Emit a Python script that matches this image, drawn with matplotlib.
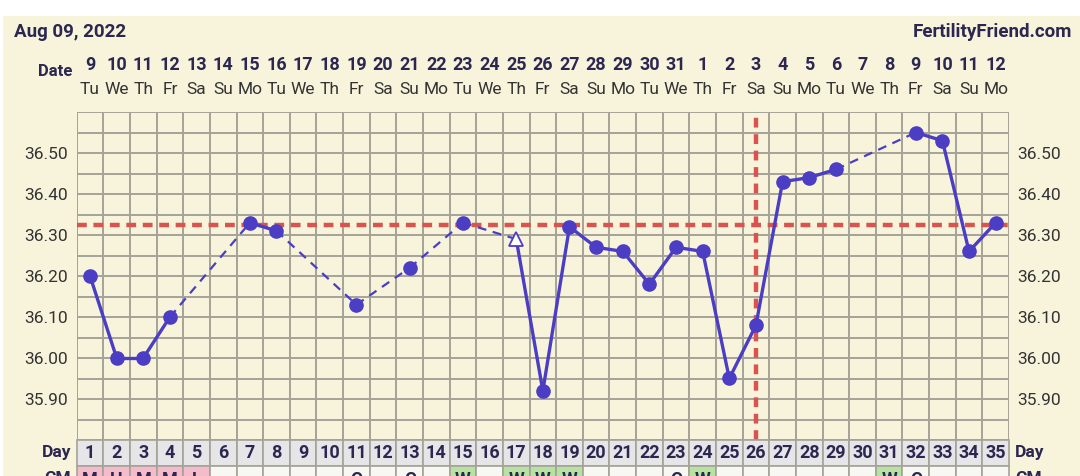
import matplotlib.pyplot as plt
from matplotlib.patches import Rectangle
import matplotlib.transforms as mtransforms

plt.rcParams['font.family'] = ['Roboto', 'DejaVu Sans']

# chart data
cycle_days = list(range(1, 36))
date_nums = [9, 10, 11, 12, 13, 14, 15, 16, 17, 18, 19, 20, 21, 22, 23, 24, 25, 26, 27, 28,
             29, 30, 31, 1, 2, 3, 4, 5, 6, 7, 8, 9, 10, 11, 12]
weekdays = ["Tu", "We", "Th", "Fr", "Sa", "Su", "Mo"] * 5
temp_days = [1, 2, 3, 4, 7, 8, 11, 13, 15, 17, 18, 19, 20, 21, 22, 23, 24, 25, 26, 27, 28, 29,
             32, 33, 34, 35]
temps = [36.20, 36.00, 36.00, 36.10, 36.33, 36.31, 36.13, 36.22, 36.33, 36.29, 35.92, 36.32,
         36.27, 36.26, 36.18, 36.27, 36.26, 35.95, 36.08, 36.43, 36.44, 36.46, 36.55, 36.53,
         36.26, 36.33]
triangle_days = [17]
coverline = 36.325
ovulation_day = 26
y_ticks = [35.90, 36.00, 36.10, 36.20, 36.30, 36.40, 36.50]
cm_codes = {1: "M", 2: "H", 3: "M", 4: "M", 5: "L", 11: "C", 13: "C", 15: "W", 17: "W",
            18: "W", 19: "W", 23: "C", 24: "W", 31: "W", 32: "C"}

navy = "#2b2750"
line_col = "#4b3dc4"
red = "#d9534f"
grid_col = "#a5a298"
cream = "#f8f4dc"

fig = plt.figure(figsize=(10.8, 4.76), dpi=100, facecolor="white")
# cream panel under the whole chart
fig.patches.append(Rectangle((3 / 1080, 0), 1, 1 - 16 / 476, transform=fig.transFigure,
                             facecolor=cream, edgecolor="none", zorder=-10))

ax = fig.add_axes([76.7 / 1080, 1 - 440 / 476, 932.3 / 1080, 328 / 476])
ax.set_facecolor(cream)
ax.set_xlim(0.5, 35.5)
ax.set_ylim(35.80, 36.60)

# grid
for x in range(36):
    ax.axvline(x + 0.5, color=grid_col, lw=1.4, zorder=1)
y = 35.80
while y < 36.601:
    ax.axhline(y, color=grid_col, lw=1.4, zorder=1)
    y += 0.05
for s in ax.spines.values():
    s.set_visible(False)

ax.set_xticks([])
ax.set_yticks(y_ticks)
ax.set_yticklabels(["%.2f" % v for v in y_ticks])
ax.tick_params(axis="y", length=0, labelsize=12.5, labelcolor="#333333", pad=6,
               labelright=True, labelleft=True)

# coverline and ovulation line
ax.axhline(coverline, color=red, lw=3.2, ls=(0, (2.2, 1.5)), zorder=2)
ax.axvline(ovulation_day, color=red, lw=3.2, ls=(0, (2.2, 1.5)), zorder=2)

# temperature line: solid for consecutive days, dashed across gaps
for i in range(len(temp_days) - 1):
    d0, d1 = temp_days[i], temp_days[i + 1]
    if d1 - d0 == 1:
        ax.plot([d0, d1], [temps[i], temps[i + 1]], color=line_col, lw=2.4, zorder=3)
    else:
        ax.plot([d0, d1], [temps[i], temps[i + 1]], color=line_col, lw=1.6,
                ls=(0, (4, 3)), zorder=3)

for d, t in zip(temp_days, temps):
    if d in triangle_days:
        ax.plot(d, t, marker="^", ms=10, mfc="white", mec=line_col, mew=1.3, zorder=4)
    else:
        ax.plot(d, t, marker="o", ms=9.5, color=line_col, zorder=4)

# header
fig.text(14 / 1080, 1 - 32 / 476, "Aug 09, 2022", fontsize=13.5, fontweight="bold",
         color=navy, va="center", ha="left")
fig.text(1072 / 1080, 1 - 32 / 476, "FertilityFriend.com", fontsize=13.5, fontweight="bold",
         color=navy, va="center", ha="right")
fig.text(72 / 1080, 1 - 71 / 476, "Date", fontsize=12, fontweight="bold",
         color=navy, va="center", ha="right")

trans = mtransforms.blended_transform_factory(ax.transData, ax.transAxes)
for d, n, w in zip(cycle_days, date_nums, weekdays):
    ax.text(d, (440 - 65) / 328, str(n), transform=trans, ha="center", va="center",
            fontsize=13, fontweight="bold", color=navy)
    ax.text(d, (440 - 90) / 328, w, transform=trans, ha="center", va="center",
            fontsize=12.5, color="#333333")

# Day row and (cut off) CM row
row_h = 26 / 328
cm_off = 5 / 328
for d in cycle_days:
    ax.add_patch(Rectangle((d - 0.5, -row_h), 1, row_h, transform=trans, facecolor="#e6e5e8",
                           edgecolor=grid_col, lw=1.2, clip_on=False, zorder=2))
    ax.text(d, -row_h / 2, str(d), transform=trans, ha="center", va="center",
            fontsize=13, fontweight="bold", color=navy, clip_on=False)
    code = cm_codes.get(d, "")
    if code in ("M", "H", "L"):
        fc = "#f4bccb"
    elif code == "W":
        fc = "#b7e3a2"
    else:
        fc = "#f8f8f3"
    ax.add_patch(Rectangle((d - 0.5, -2 * row_h), 1, row_h, transform=trans, facecolor=fc,
                           edgecolor=grid_col, lw=1.2, clip_on=False, zorder=2))
    if code:
        ax.text(d, -row_h - cm_off, code, transform=trans, ha="center", va="top",
                fontsize=13, fontweight="bold", color=navy, clip_on=False)

ax.text(-0.2 / 35, -row_h / 2, "Day", transform=ax.transAxes, ha="right", va="center",
        fontsize=12.5, fontweight="bold", color=navy, clip_on=False)
ax.text(1 + 6 / 932, -row_h / 2, "Day", transform=ax.transAxes, ha="left", va="center",
        fontsize=12.5, fontweight="bold", color=navy, clip_on=False)
ax.text(-0.2 / 35, -row_h - cm_off, "CM", transform=ax.transAxes, ha="right", va="top",
        fontsize=12.5, fontweight="bold", color=navy, clip_on=False)
ax.text(1 + 6 / 932, -row_h - cm_off, "CM", transform=ax.transAxes, ha="left", va="top",
        fontsize=12.5, fontweight="bold", color=navy, clip_on=False)

fig.savefig("out.png", dpi=100, facecolor=fig.get_facecolor())
